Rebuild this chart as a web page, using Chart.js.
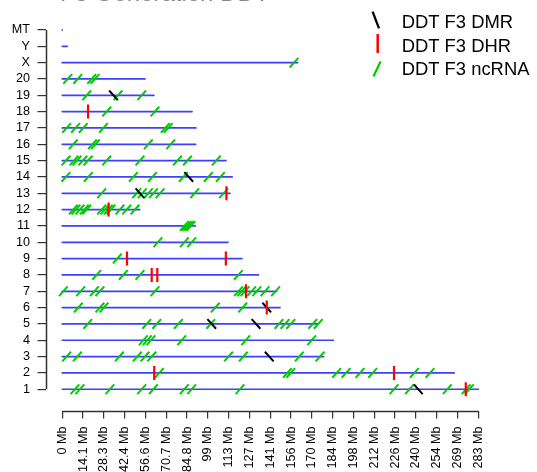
<!DOCTYPE html>
<html>
<head>
<meta charset="utf-8">
<script src="https://cdn.jsdelivr.net/npm/chart.js@4.4.1/dist/chart.umd.min.js"></script>
<style>
  html, body { margin: 0; padding: 0; background: #fff; }
</style>
</head>
<body>
<canvas id="myChart" width="537" height="472"></canvas>
<script>
// chromosomes, bottom row first
var chromNames = ['1','2','3','4','5','6','7','8','9','10','11','12','13','14','15','16','17','18','19','20','X','Y','MT'];
var chromLengthMb = [282.76, 266.44, 177.70, 184.23, 173.71, 147.99, 145.73, 133.31, 122.10, 112.63, 90.46, 52.72,
                     114.03, 115.49, 111.25, 90.67, 90.84, 88.20, 62.28, 56.21, 159.97, 3.31, 0.016];

// site positions (Mb), one list per chromosome in chromNames order
var ncrnaMb = [
  [8.6, 12, 32.4, 54, 61.9, 82.9, 88, 120.8, 225.5, 236, 261.7, 274.5, 276.7], // 1
  [66, 153, 155.3, 186.5, 192.9, 202.4, 211, 239.3, 250],                       // 2
  [3, 10.2, 38.8, 51, 56.2, 60.8, 113, 123.1, 161.1, 175.2],                     // 3
  [55.1, 57.8, 60.3, 81.2, 124.7, 169.5],                                        // 4
  [17.3, 57.4, 64.2, 78.9, 100.9, 147.3, 151.4, 155.3, 170.2, 174],              // 5
  [10.9, 25.6, 28.3, 104, 122.6],                                                // 6
  [0.7, 12.5, 21.8, 25.6, 63, 119.8, 122, 124.2, 128.7, 132.2, 137.8, 145],      // 7
  [23.4, 41.5, 52.8, 119.7],                                                     // 8
  [37.4],                                                                        // 9
  [65, 83, 88],                                                                  // 10
  [83, 84.5, 86, 87.5],                                                          // 11
  [7.5, 9.3, 12, 15, 16.6, 26.8, 29, 31.3, 33.1, 39.2, 43.8, 49.4],              // 12
  [26.8, 50.6, 54.4, 58.5, 62, 66.5, 90, 109.7],                                 // 13
  [2.5, 17.7, 48.3, 61.3, 82.3, 99.3, 107.5],                                    // 14
  [2.5, 8, 10, 14, 17.5, 30.2, 52.8, 78.3, 85.1, 104.7],                         // 15
  [7.5, 20.5, 22.5, 58.5, 73.7],                                                 // 16
  [3, 9, 14.3, 28, 70, 72],                                                      // 17
  [30.2, 63],                                                                    // 18
  [16.6, 37.9, 54],                                                              // 19
  [3.7, 10.5, 20, 22.2],                                                         // 20
  [157.5],                                                                       // X
  [],                                                                            // Y
  []                                                                             // MT
];
var dmrMb = [
  [242], [], [140.7], [], [101.6, 131.7], [139], [], [], [], [], [], [],
  [52.8], [86], [], [], [], [], [34.8], [], [], [], []
];
var dhrMb = [
  [274.3], [62.5, 225.5], [], [], [], [139], [124.9], [60.8, 64.6], [44, 111.2], [], [], [31.5],
  [111.6], [], [], [], [], [17.5], [], [], [], [], []
];

var tickValues = [0, 14.14, 28.28, 42.41, 56.55, 70.69, 84.83, 98.97, 113.1, 127.24, 141.38,
                  155.52, 169.66, 183.79, 197.93, 212.07, 226.21, 240.35, 254.48, 268.62, 282.76];
var tickLabels = ['0 Mb','14.1 Mb','28.3 Mb','42.4 Mb','56.6 Mb','70.7 Mb','84.8 Mb','99 Mb','113 Mb','127 Mb','141 Mb',
                  '156 Mb','170 Mb','184 Mb','198 Mb','212 Mb','226 Mb','240 Mb','254 Mb','269 Mb','283 Mb'];

var FONT = '"Liberation Sans", Arial, Helvetica, sans-serif';

function toPoints(lists){
  var pts = [];
  for (var i = 0; i < lists.length; i++){
    for (var j = 0; j < lists[i].length; j++){
      pts.push({x: lists[i][j], y: i + 1});
    }
  }
  return pts;
}

var datasets = [];
datasets.push({label: 'DDT F3 DHR', data: toPoints(dhrMb), pointStyle: 'line', pointRotation: 90,
  pointRadius: 7, pointBorderColor: '#ff0000', pointBorderWidth: 2.2, order: 1});
datasets.push({label: 'DDT F3 DMR', data: toPoints(dmrMb), pointStyle: 'line', pointRotation: 48,
  pointRadius: 6.5, pointBorderColor: '#000000', pointBorderWidth: 2, order: 2});
datasets.push({label: 'DDT F3 ncRNA', data: toPoints(ncrnaMb), pointStyle: 'line', pointRotation: -48,
  pointRadius: 6.5, pointBorderColor: '#00cc00', pointBorderWidth: 2, order: 3});
// chromosome bars
for (var i = 0; i < chromNames.length; i++){
  datasets.push({label: 'chr' + chromNames[i], data: [{x: 0, y: i + 1}, {x: chromLengthMb[i], y: i + 1}],
    showLine: true, pointRadius: 0, borderColor: '#3f3fff', borderWidth: 1.7, borderCapStyle: 'round', order: 10});
}

// R style axis lines, legend and the clipped title
var extras = {
  id: 'extras',
  afterDraw: function(chart){
    var ctx = chart.ctx;
    var area = chart.chartArea;
    var xs = chart.scales.x, ys = chart.scales.y;
    ctx.save();
    ctx.strokeStyle = '#333';
    ctx.lineWidth = 1.5;
    ctx.lineCap = 'butt';
    var xl = Math.round(area.left) + 0.5;
    ctx.beginPath();
    ctx.moveTo(xl, ys.getPixelForValue(1));
    ctx.lineTo(xl, ys.getPixelForValue(chromNames.length));
    ctx.stroke();
    var yb = Math.round(area.bottom) + 0.5;
    ctx.beginPath();
    ctx.moveTo(xs.getPixelForValue(tickValues[0]), yb);
    ctx.lineTo(xs.getPixelForValue(tickValues[tickValues.length - 1]), yb);
    ctx.stroke();

    // legend
    var items = [
      {text: 'DDT F3 DMR', color: '#000000', x: 375.8, y: 20, dx: 3.2, dy: 8.3, w: 2.3, ty: 28.3},
      {text: 'DDT F3 DHR', color: '#ff0000', x: 377.7, y: 43.5, dx: 0, dy: 9.5, w: 2.5, ty: 51.7},
      {text: 'DDT F3 ncRNA', color: '#00cc00', x: 377, y: 69, dx: -3.6, dy: 7.5, w: 2.2, ty: 75}
    ];
    ctx.font = '18.4px ' + FONT;
    ctx.textBaseline = 'alphabetic';
    ctx.textAlign = 'left';
    items.forEach(function(it){
      ctx.strokeStyle = it.color;
      ctx.lineWidth = it.w;
      ctx.beginPath();
      ctx.moveTo(it.x - it.dx, it.y - it.dy);
      ctx.lineTo(it.x + it.dx, it.y + it.dy);
      ctx.stroke();
      ctx.fillStyle = '#000';
      ctx.fillText(it.text, 401.7, it.ty);
    });

    // title, almost entirely above the canvas edge
    ctx.font = '24px ' + FONT;
    ctx.fillStyle = '#888';
    ctx.fillText('F3 Generation DDT', 60, 1);
    ctx.restore();
  }
};

var ctx = document.getElementById('myChart').getContext('2d');
var myChart = new Chart(ctx, {
  type: 'scatter',
  data: { datasets: datasets },
  options: {
    responsive: false,
    animation: false,
    events: [],
    layout: { padding: { top: 20, left: 0, right: 10, bottom: 0 } },
    plugins: { legend: { display: false }, tooltip: { enabled: false } },
    scales: {
      x: {
        type: 'linear',
        min: -11.4,
        max: 315.9,
        afterBuildTicks: function(s){ s.ticks = tickValues.map(function(v){ return {value: v}; }); },
        afterFit: function(s){ s.height = 61.5; },
        ticks: {
          autoSkip: false, minRotation: 90, maxRotation: 90, padding: 8, color: '#000',
          font: { family: FONT, size: 12.6 },
          callback: function(v, i){ return tickLabels[i]; }
        },
        grid: { drawOnChartArea: false, drawTicks: true, tickLength: 8, color: '#333', lineWidth: 1.2 },
        border: { display: false }
      },
      y: {
        type: 'linear',
        min: -0.3,
        max: 23.61,
        afterBuildTicks: function(s){ s.ticks = chromNames.map(function(n, i){ return {value: i + 1}; }); },
        afterFit: function(s){ s.width = 45.5; },
        ticks: {
          autoSkip: false, padding: 7.5, color: '#000',
          font: { family: FONT, size: 12.6 },
          callback: function(v, i){ return chromNames[i]; }
        },
        grid: { drawOnChartArea: false, drawTicks: true, tickLength: 8, color: '#333', lineWidth: 1.2 },
        border: { display: false }
      }
    }
  },
  plugins: [extras]
});
</script>
</body>
</html>
